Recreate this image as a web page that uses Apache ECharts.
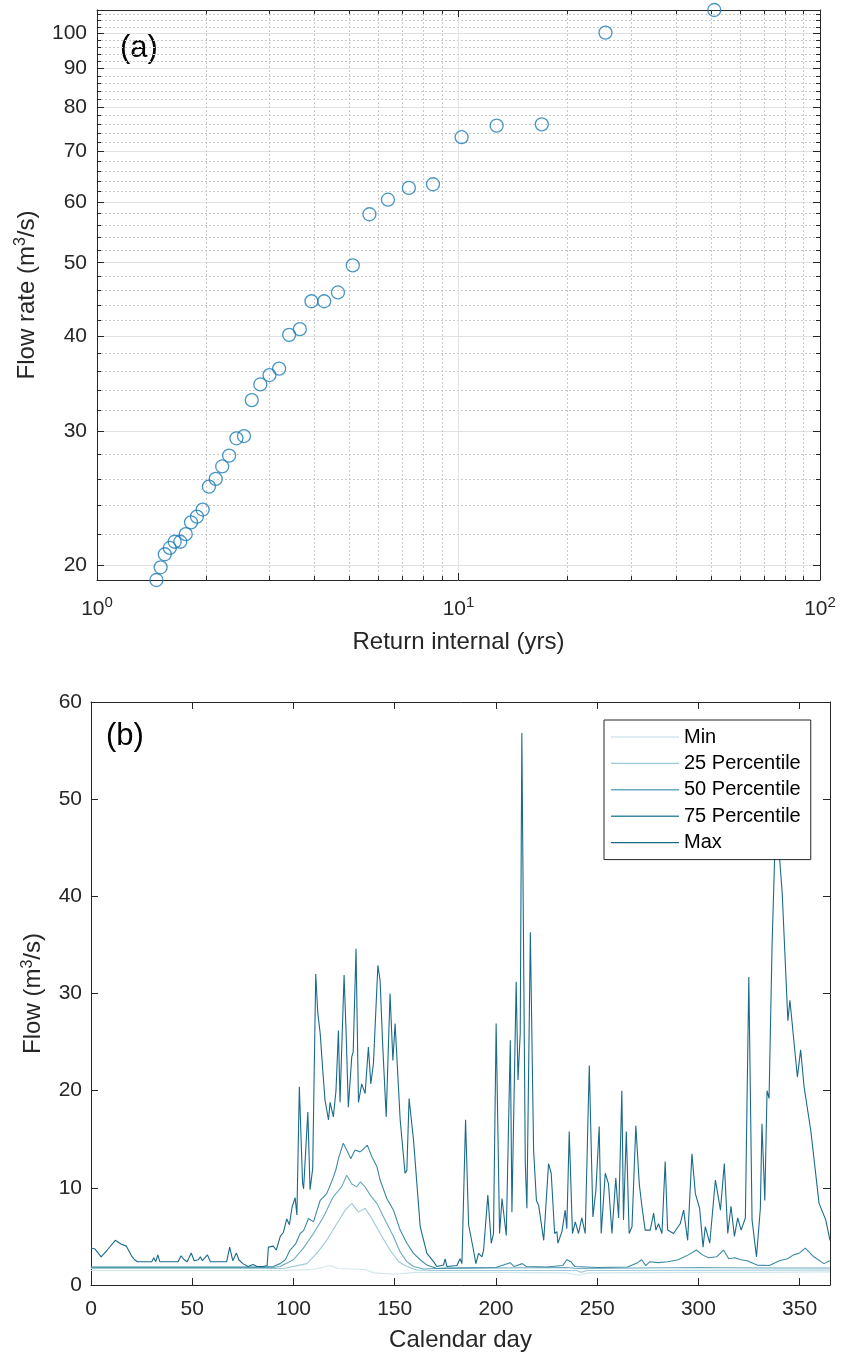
<!DOCTYPE html>
<html><head><meta charset="utf-8">
<script src="https://cdn.jsdelivr.net/npm/echarts@6/dist/echarts.min.js"></script>
<style>html,body{margin:0;padding:0;background:#fff}#c{width:841px;height:1357px}</style>
</head><body><div id="c"></div><script>
const FONT = '"Liberation Sans", Arial, Helvetica, sans-serif';
const INK = '#262626';

// ---- (a) return interval plot ----
const returnPeriod = [1.46,1.50,1.54,1.59,1.64,1.70,1.76,1.82,1.89,1.96,2.04,2.13,2.22,2.32,2.43,2.55,2.68,2.83,3.00,3.19,3.40,3.64,3.92,4.25,4.64,5.10,5.67,6.38,7.29,8.50,10.2,12.75,17.0,25.5,51.0];
const peakFlow = [19.15,19.9,20.7,21.1,21.5,21.5,22.0,22.8,23.2,23.7,25.4,26.0,27.0,27.9,29.4,29.6,33.0,34.6,35.6,36.3,40.2,40.9,44.5,44.5,45.7,49.6,57.9,60.5,62.7,63.4,73.1,75.7,76.0,100.3,107.4];
const xTickValues = [1, 10, 100];
const xTickLabels = ['10{sup|0}', '10{sup|1}', '10{sup|2}'];
const xMinorTicks = [2,3,4,5,6,7,8,9,20,30,40,50,60,70,80,90];
const yTickValues = [20,30,40,50,60,70,80,90,100];
const yMinorTicks = [22,24,26,28,32,34,36,38,42,44,46,48,52,54,56,58,62,64,66,68,72,74,76,78,82,84,86,88,92,94,96,98,102,104,106];

// ---- (b) daily flow statistics [calendar day, flow] ----
const dayTicks = [0,50,100,150,200,250,300,350];
const flowTicks = [0,10,20,30,40,50,60];
const seriesNames = ['Min','25 Percentile','50 Percentile','75 Percentile','Max'];
const minFlow = [[0,1.5],[95,1.5],[110,1.6],[118,2.0],[122,1.7],[135,1.6],[140,1.25],[150,1.1],[160,1.3],[200,1.3],[235,1.25],[241,1.0],[246,1.25],[300,1.3],[330,1.3],[365,1.35]];
const p25 = [[0,1.7],[95,1.7],[106.6,2.2],[111.5,3.25],[116.4,4.6],[121.4,6.3],[125.5,7.7],[128.8,8.4],[132.1,7.5],[135.4,7.9],[138.7,6.85],[142.8,5.3],[147.7,3.6],[151.9,2.4],[156,1.9],[160.9,1.55],[170,1.5],[240,1.5],[242,1.3],[245,1.5],[365,1.55]];
const p50 = [[0,1.8],[90,1.8],[93.4,1.9],[100,2.6],[104.9,3.8],[109.9,5.3],[114.8,7.0],[119.7,9.1],[123.8,10.1],[126.3,11.3],[128.8,10.4],[131.2,10.1],[133,10.6],[135.4,10.1],[137.9,9.25],[141.2,8.4],[144.5,7.0],[149.4,5.0],[152.7,3.4],[156,2.4],[159.3,1.9],[164.2,1.65],[170,1.7],[200,1.75],[235,1.8],[240,1.7],[300,1.8],[330,1.75],[365,1.75]];
const p75 = [[0,1.85],[85,1.85],[90,1.9],[93.4,2.2],[96,2.6],[98.3,3.6],[101,4.2],[103.3,5.3],[105,5.6],[107.4,6.85],[109.9,6.5],[111.5,7.6],[113.2,8.7],[116.4,9.4],[118,10.2],[119.7,11.1],[121,11.9],[122.2,13.0],[124.6,14.6],[126.3,13.9],[128.3,13.0],[130.4,13.9],[132.9,13.7],[134.6,14.0],[136.5,14.4],[138.7,13.2],[141.2,12.2],[142.8,10.8],[146.1,8.9],[149.4,7.7],[152.7,5.65],[156,4.3],[159.3,3.25],[162.6,2.6],[165.9,2.05],[170.8,1.7],[175,1.75],[200,1.8],[207,2.3],[209,1.9],[213,2.2],[215,1.9],[225,1.85],[233,2.0],[235,2.6],[237,2.4],[239,1.9],[250,1.8],[265,1.85],[270,2.3],[272,2.6],[274,2.0],[276,2.4],[280,2.3],[285,2.4],[290,2.6],[295,3.1],[299,3.6],[302,3.1],[305,2.8],[309,2.9],[312.4,3.6],[315,2.7],[318,2.8],[321,2.6],[324,2.5],[329,2.05],[335,2.0],[340,2.5],[344,2.7],[347,3.1],[350,3.3],[352.8,3.8],[357,2.9],[362,2.2],[365,2.5]];
const maxFlow = [[0,3.8],[2,3.7],[5,2.9],[8,3.6],[12,4.6],[15,4.2],[17.5,4.0],[19,3.4],[20,3.0],[21.5,2.6],[23,2.4],[30,2.4],[31,2.8],[32,2.4],[33,3.1],[34,2.4],[43,2.4],[44.5,3.0],[46,2.6],[47.5,2.4],[49.5,3.3],[51,2.5],[53,2.6],[54,2.9],[55,2.5],[57.5,3.1],[59,2.4],[67,2.4],[68.5,3.9],[70,2.5],[71.8,3.3],[73,2.6],[75,2.2],[77.6,1.9],[80,2.1],[82,1.9],[85,1.9],[87,2.0],[87.6,3.9],[90,4.0],[91.5,3.6],[93.5,5.0],[95,5.4],[96.7,6.8],[98,6.2],[99.3,8.0],[100.8,9.0],[101.7,7.2],[102.9,20.4],[104.5,10.5],[105,9.9],[107.1,17.8],[108.2,9.8],[109.5,12],[111,32.0],[112,28],[113.2,25.9],[114.5,22],[115.6,19.0],[117.3,17.0],[118.1,18.8],[119.7,17.3],[121,20],[122.2,26.2],[123,18.8],[125,31.9],[126,26],[127.1,18.3],[128.8,23.5],[129.5,24],[130.9,34.6],[132.1,18.8],[133.7,20.7],[135.4,19.7],[137,24.5],[138.2,20.7],[139.5,22.8],[141.7,32.9],[142.8,31.3],[144,25],[145.8,17.3],[147.7,30.0],[149.1,23.1],[150.2,26.9],[152.7,17.0],[155.1,11.5],[156,11.8],[157.1,19.2],[159.3,14.9],[162.6,6.0],[165.9,3.25],[169.2,2.4],[170.8,1.9],[174.1,2.05],[174.9,2.7],[175.8,1.9],[180.7,2.0],[182.3,2.7],[183.2,2.2],[185,17.0],[186.5,6.2],[187.3,6.0],[188.9,3.6],[190.1,2.2],[191.4,3.25],[193.1,2.9],[193.9,3.6],[196,9.25],[197.7,4.3],[198.8,5.3],[200.1,26.9],[201.8,5.3],[203,8.9],[205.1,5.1],[207.1,25.2],[207.9,7.5],[210,31.2],[210.9,21.1],[212,25.9],[212.8,56.8],[214.5,12.5],[215.3,7.9],[217,36.3],[218.6,13.9],[220,8.7],[221.1,8.2],[223.6,4.6],[226,12.5],[227.3,11.5],[229,5.3],[230.1,5.5],[230.6,4.3],[232.6,5.5],[234.2,7.7],[235,5.8],[236.2,15.8],[237.8,5.3],[239.2,6.5],[240.8,5.3],[242.4,6.9],[244.1,5.3],[246.1,22.6],[247.9,7.0],[249.4,9.8],[251,16.3],[252,5.3],[254,11.5],[255.6,10.4],[257.3,5.3],[259.2,11.0],[260.6,6.9],[262.2,20.0],[263,6.7],[264.4,15.8],[265.8,5.3],[267.2,6.0],[269.1,16.4],[270.8,10.4],[272.1,8.1],[273.7,5.65],[276.2,5.65],[277.9,7.4],[279,5.65],[280.3,6.3],[282,5.3],[283.6,12.7],[284.8,5.65],[287.7,5.3],[291,6.3],[292.7,7.7],[294.7,4.6],[296.8,13.5],[298.5,9.4],[300.6,7.9],[302.3,3.9],[303.4,6.0],[305.6,4.3],[308.4,10.8],[310.9,7.7],[312.8,12.5],[314.5,5.3],[316.1,8.1],[317.8,5.0],[319.4,6.9],[321.1,5.65],[323.2,6.9],[324.9,31.7],[326.5,6.7],[328.7,2.9],[330.6,7.9],[331.4,16.6],[332.8,8.7],[333.9,20.0],[334.9,19.2],[336.4,35.1],[338,46.4],[339,47],[341.4,40.3],[344.2,27.2],[345.2,29.3],[348.9,21.4],[350.5,24.2],[352.2,20.4],[355.5,15.9],[359.6,8.4],[362.9,6.7],[365,4.6]];
const seriesData = [minFlow, p25, p50, p75, maxFlow];
const seriesColors = ['#d3e6ec', '#9ccad8', '#69a9bd', '#3b8aa3', '#1a6a8a'];

const supRich = (fs) => ({ sup: { fontSize: fs, lineHeight: fs, verticalAlign: 'top', color: INK, fontFamily: FONT } });
const lineInk = { show: true, onZero: false, lineStyle: { color: INK, width: 1 } };
const noLabel = { show: false };
const noSplit = { show: false };
const tick = (len, vals) => ({ show: true, inside: true, length: len, lineStyle: { color: INK, width: 1 }, customValues: vals });

function logX(extra) {
  return Object.assign({ gridIndex: 0, type: 'log', logBase: 10, min: 1, max: 100 }, extra);
}
function logY(extra) {
  return Object.assign({ gridIndex: 0, type: 'log', logBase: 10, min: 19.15, max: 107.4 }, extra);
}

const chart = echarts.init(document.getElementById('c'));
chart.setOption({
  animation: false,
  backgroundColor: '#fff',
  textStyle: { fontFamily: FONT },
  grid: [
    { left: 97, top: 10, width: 723, height: 570 },
    { left: 91, top: 702, width: 739, height: 583 }
  ],
  xAxis: [
    logX({ position: 'bottom', axisLine: lineInk, axisTick: tick(7, xTickValues),
      axisLabel: { show: true, customValues: xTickValues, showMinLabel: true, showMaxLabel: true,
        formatter: v => xTickLabels[xTickValues.indexOf(Math.round(v))] || '',
        fontSize: 21, color: INK, fontFamily: FONT, margin: 15, lineHeight: 28, rich: supRich(15) },
      splitLine: { show: true, lineStyle: { color: '#e2e2e2', width: 1 } },
      name: 'Return internal (yrs)', nameLocation: 'middle', nameGap: 50,
      nameTextStyle: { fontSize: 24, color: INK, fontFamily: FONT } }),
    logX({ position: 'bottom', axisLine: { show: false }, axisLabel: noLabel, axisTick: tick(4, xMinorTicks),
      splitLine: { show: true, lineStyle: { color: '#cacaca', width: 1, type: [2, 2] } } }),
    logX({ position: 'top', axisLine: lineInk, axisLabel: noLabel, splitLine: noSplit, axisTick: tick(7, xTickValues) }),
    logX({ position: 'top', axisLine: { show: false }, axisLabel: noLabel, splitLine: noSplit, axisTick: tick(4, xMinorTicks) }),
    { gridIndex: 1, type: 'value', min: 0, max: 365, interval: 50, position: 'bottom', axisLine: lineInk,
      axisTick: tick(7, dayTicks),
      axisLabel: { customValues: dayTicks, fontSize: 21, color: INK, fontFamily: FONT, margin: 14, showMaxLabel: true, showMinLabel: true },
      splitLine: noSplit,
      name: 'Calendar day', nameLocation: 'middle', nameGap: 43,
      nameTextStyle: { fontSize: 24, color: INK, fontFamily: FONT } },
    { gridIndex: 1, type: 'value', min: 0, max: 365, interval: 50, position: 'top', axisLine: lineInk,
      axisTick: tick(7, dayTicks), axisLabel: noLabel, splitLine: noSplit }
  ],
  yAxis: [
    logY({ position: 'left', axisLine: lineInk, axisTick: tick(7, yTickValues),
      axisLabel: { show: true, customValues: yTickValues, fontSize: 21, color: INK, fontFamily: FONT, margin: 10 },
      splitLine: { show: true, lineStyle: { color: '#e2e2e2', width: 1 } },
      name: 'Flow rate (m{sup|3}/s)', nameLocation: 'middle', nameGap: 49,
      nameTextStyle: { fontSize: 24, color: INK, fontFamily: FONT, lineHeight: 28, rich: supRich(16) } }),
    logY({ position: 'left', axisLine: { show: false }, axisLabel: noLabel, axisTick: tick(4, yMinorTicks),
      splitLine: { show: true, lineStyle: { color: '#cacaca', width: 1, type: [2, 2] } } }),
    logY({ position: 'right', axisLine: lineInk, axisLabel: noLabel, splitLine: noSplit, axisTick: tick(7, yTickValues) }),
    logY({ position: 'right', axisLine: { show: false }, axisLabel: noLabel, splitLine: noSplit, axisTick: tick(4, yMinorTicks) }),
    { gridIndex: 1, type: 'value', min: 0, max: 60, interval: 10, position: 'left', axisLine: lineInk,
      axisTick: tick(7, flowTicks),
      axisLabel: { customValues: flowTicks, fontSize: 21, color: INK, fontFamily: FONT, margin: 9 },
      splitLine: noSplit,
      name: 'Flow (m{sup|3}/s)', nameLocation: 'middle', nameGap: 41,
      nameTextStyle: { fontSize: 24, color: INK, fontFamily: FONT, lineHeight: 28, rich: supRich(16) } },
    { gridIndex: 1, type: 'value', min: 0, max: 60, interval: 10, position: 'right', axisLine: lineInk,
      axisTick: tick(7, flowTicks), axisLabel: noLabel, splitLine: noSplit }
  ],
  legend: {
    data: seriesNames, orient: 'vertical', left: 604, top: 720,
    padding: [7, 10, 7, 7], itemWidth: 68, itemHeight: 1.4, itemGap: 6.4,
    icon: 'rect',
    borderColor: INK, borderWidth: 1, borderRadius: 0, backgroundColor: '#fff',
    textStyle: { fontSize: 20, color: '#000', fontFamily: FONT, lineHeight: 20 },
    selectedMode: false, z: 10
  },
  graphic: [
    { type: 'text', x: 120, y: 48, style: { text: '(a)', fontSize: 31, fontFamily: FONT, fill: '#000', verticalAlign: 'middle', align: 'left' } },
    { type: 'text', x: 106, y: 736, style: { text: '(b)', fontSize: 31, fontFamily: FONT, fill: '#000', verticalAlign: 'middle', align: 'left' } }
  ],
  series: [
    { type: 'scatter', name: 'Annual peak', xAxisIndex: 0, yAxisIndex: 0, clip: false,
      data: returnPeriod.map((t, i) => [t, peakFlow[i]]),
      symbol: 'circle', symbolSize: 13,
      itemStyle: { color: 'rgba(0,0,0,0)', borderColor: '#1a7cb8', borderWidth: 1.3 } }
  ].concat(seriesNames.map((n, i) => ({
    type: 'line', name: n, xAxisIndex: 4, yAxisIndex: 4, data: seriesData[i],
    symbol: 'none', showSymbol: false, color: seriesColors[i],
    lineStyle: { color: seriesColors[i], width: 1.1 }
  })))
});
</script></body></html>
